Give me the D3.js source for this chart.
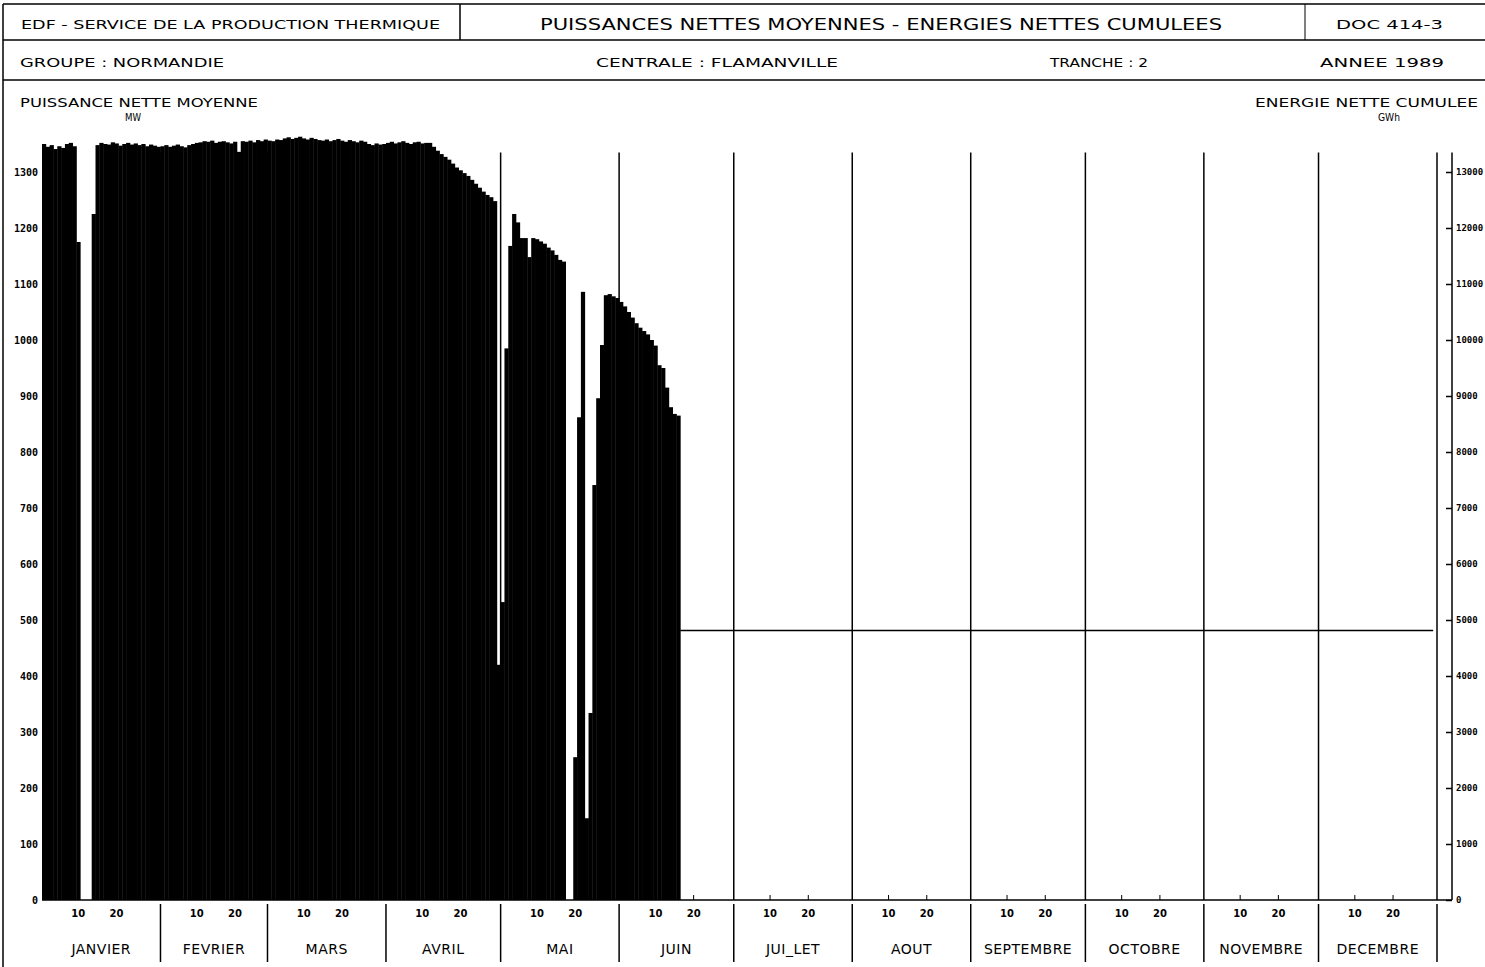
<!DOCTYPE html>
<html>
<head>
<meta charset="utf-8">
<script src="https://cdn.jsdelivr.net/npm/d3@7"></script>
<style>
body { margin: 0; background: #fff; }
svg { display: block; }
text { font-family: "DejaVu Sans", sans-serif; fill: #000; }
.tick text { font-family: "DejaVu Sans Mono", monospace; font-weight: bold; font-size: 10px; }
</style>
</head>
<body>
<div id="fig"></div>
<script>
const fig_width = 1485
const fig_height = 967

// Daily net mean power (MW), 1989. 0 = unit off line.
const power_jan = [1350, 1345, 1348, 1341, 1346, 1343, 1350, 1352, 1346, 1175,
    0, 0, 0, 1225, 1348, 1352, 1350, 1349, 1353, 1351,
    1347, 1350, 1352, 1349, 1351, 1348, 1350, 1346, 1349, 1347, 1345]
const power_feb = [1346, 1348, 1345, 1347, 1349, 1346, 1344, 1348, 1350, 1352,
    1353, 1355, 1354, 1356, 1352, 1354, 1355, 1353, 1351, 1354,
    1336, 1355, 1354, 1356, 1353, 1357, 1355, 1358]
const power_mar = [1356, 1355, 1358, 1357, 1360, 1362, 1359, 1361, 1363, 1360,
    1358, 1361, 1359, 1357, 1356, 1358, 1355, 1357, 1359, 1356,
    1354, 1357, 1355, 1353, 1356, 1354, 1350, 1348, 1351, 1349, 1350]
const power_apr = [1352, 1354, 1351, 1353, 1355, 1352, 1350, 1353, 1354, 1351,
    1352, 1352, 1345, 1338, 1332, 1327, 1322, 1315, 1308, 1303,
    1298, 1293, 1286, 1279, 1272, 1265, 1259, 1255, 1248, 420]
const power_may = [532, 985, 1168, 1225, 1210, 1182, 1182, 1148, 1182, 1180,
    1176, 1172, 1165, 1160, 1152, 1143, 1140, 0, 0, 255,
    862, 1086, 146, 334, 741, 896, 991, 1080, 1082, 1078, 1075]
const power_jun = [1068, 1060, 1050, 1040, 1030, 1022, 1016, 1010, 1000, 990,
    955, 950, 915, 880, 868, 865]

const months = ['JANVIER', 'FEVRIER', 'MARS', 'AVRIL', 'MAI', 'JUIN',
    'JUI_LET', 'AOUT', 'SEPTEMBRE', 'OCTOBRE', 'NOVEMBRE', 'DECEMBRE']
const month_days = [31, 28, 31, 30, 31, 30, 31, 31, 30, 31, 30, 31]
const power_ticks = d3.range(0, 1301, 100)
const energy_ticks = d3.range(0, 13001, 1000)
const day_ticks = [10, 20]

const power = [].concat(power_jan, power_feb, power_mar, power_apr, power_may, power_jun)
// cumulated net energy in GWh (MW x 24 h)
const energy = Array.from(d3.cumsum(d3.range(365).map(d => (power[d] || 0) * 24 / 1000)))

const month_start = Array.from(d3.cumsum([0].concat(month_days.slice(0, -1))))
const month_end = Array.from(d3.cumsum(month_days))

// scales
let x = d3.scaleLinear().domain([0, 365]).range([42, 1437])
let y = d3.scaleLinear().domain([0, 1300]).range([900, 172])
let y2 = d3.scaleLinear().domain([0, 13000]).range([900, 172])
const right_axis_x = 1452
const plot_top = y(1335)

let fig = d3.select('#fig')
    .append('svg')
    .attr('width', fig_width)
    .attr('height', fig_height)

// ---- header frame
const frame = fig.append('g').attr('stroke', '#000').attr('stroke-width', 1.5)
frame.append('line').attr('x1', 3).attr('x2', fig_width).attr('y1', 4).attr('y2', 4)
frame.append('line').attr('x1', 3).attr('x2', fig_width).attr('y1', 40).attr('y2', 40)
frame.append('line').attr('x1', 3).attr('x2', fig_width).attr('y1', 80).attr('y2', 80)
frame.append('line').attr('x1', 3).attr('x2', 3).attr('y1', 4).attr('y2', fig_height)
frame.append('line').attr('x1', 460).attr('x2', 460).attr('y1', 4).attr('y2', 40)
frame.append('line').attr('x1', 1305).attr('x2', 1305).attr('y1', 4).attr('y2', 40).attr('stroke-width', 1)

const header = [
    {t: 'EDF - SERVICE DE LA PRODUCTION THERMIQUE', x: 21, y: 29, w: 419, s: 13},
    {t: 'PUISSANCES NETTES MOYENNES - ENERGIES NETTES CUMULEES', x: 540, y: 30, w: 682, s: 16},
    {t: 'DOC 414-3', x: 1336, y: 29, w: 107, s: 12},
    {t: 'GROUPE :  NORMANDIE', x: 20, y: 67, w: 204, s: 13},
    {t: 'CENTRALE : FLAMANVILLE', x: 596, y: 67, w: 242, s: 13},
    {t: 'TRANCHE :  2', x: 1050, y: 67, w: 98, s: 12},
    {t: 'ANNEE  1989', x: 1320, y: 67, w: 124, s: 13},
    {t: 'PUISSANCE NETTE MOYENNE', x: 20, y: 107, w: 238, s: 12},
    {t: 'MW', x: 125, y: 121, w: 16, s: 11},
    {t: 'ENERGIE NETTE CUMULEE', x: 1255, y: 107, w: 223, s: 12},
    {t: 'GWh', x: 1378, y: 121, w: 22, s: 11},
]
fig.append('g').selectAll('text')
    .data(header)
    .join('text')
    .attr('x', d => d.x)
    .attr('y', d => d.y)
    .attr('font-size', d => d.s)
    .attr('textLength', d => d.w)
    .attr('lengthAdjust', 'spacingAndGlyphs')
    .text(d => d.t)

// ---- month grid lines inside the plot
fig.append('g').selectAll('line')
    .data(month_end)
    .join('line')
    .attr('x1', d => x(d)).attr('x2', d => x(d))
    .attr('y1', plot_top).attr('y2', y(0))
    .attr('stroke', '#000').attr('stroke-width', 1.5)

// ---- daily bars
fig.append('g').selectAll('rect')
    .data(power.map((v, i) => ({day: i, v: v})).filter(d => d.v > 0))
    .join('rect')
    .attr('x', d => x(d.day))
    .attr('width', d => x(d.day + 1) - x(d.day) + 0.4)
    .attr('y', d => y(d.v))
    .attr('height', d => y(0) - y(d.v))
    .attr('fill', '#000')

// ---- cumulated energy line (hidden under the bars, visible after the last day)
const last_day = power.length
fig.append('path')
    .datum(d3.range(last_day, 365))
    .attr('fill', 'none')
    .attr('stroke', '#000')
    .attr('stroke-width', 1.5)
    .attr('d', d3.line().x(d => x(d)).y(d => y2(energy[d])))

// ---- axes
fig.append('g')
    .attr('transform', `translate(${x(0)},0)`)
    .call(d3.axisLeft(y).tickValues(power_ticks).tickSize(0).tickPadding(4).tickFormat(d3.format('d')))
    .call(g => g.select('.domain').remove())

fig.append('g')
    .attr('transform', `translate(${right_axis_x},0)`)
    .call(d3.axisRight(y2).tickValues(energy_ticks).tickSizeInner(-6).tickSizeOuter(0).tickPadding(4).tickFormat(d3.format('d')))
    .call(g => g.select('.domain').attr('d', `M0,${plot_top}V${y(0)}`).attr('stroke-width', 1.5))
    .call(g => g.selectAll('.tick line').attr('stroke-width', 1.5))
    .call(g => g.selectAll('.tick text').style('font-size', '9px'))

// x axis base line
fig.append('line')
    .attr('x1', x(0)).attr('x2', right_axis_x)
    .attr('y1', y(0)).attr('y2', y(0))
    .attr('stroke', '#000').attr('stroke-width', 1.5)

// day 10 / 20 ticks and labels
const day_marks = []
month_start.forEach(s => day_ticks.forEach(t => day_marks.push({d: s + t - 0.5, t: t})))
fig.append('g').selectAll('line')
    .data(day_marks)
    .join('line')
    .attr('x1', d => x(d.d)).attr('x2', d => x(d.d))
    .attr('y1', y(0) - 5).attr('y2', y(0))
    .attr('stroke', '#000').attr('stroke-width', 1)
fig.append('g').selectAll('text')
    .data(day_marks)
    .join('text')
    .attr('x', d => x(d.d))
    .attr('y', y(0) + 17)
    .attr('text-anchor', 'middle')
    .attr('font-family', 'DejaVu Sans Mono')
    .attr('font-weight', 'bold')
    .attr('font-size', 10)
    .text(d => d.t)

// month separators and names below the axis
fig.append('g').selectAll('line')
    .data(month_end)
    .join('line')
    .attr('x1', d => x(d)).attr('x2', d => x(d))
    .attr('y1', y(0) + 4).attr('y2', y(0) + 62)
    .attr('stroke', '#000').attr('stroke-width', 1.5)
fig.append('g').selectAll('text')
    .data(months)
    .join('text')
    .attr('x', (d, i) => x(month_start[i] + month_days[i] / 2))
    .attr('y', y(0) + 54)
    .attr('text-anchor', 'middle')
    .attr('font-size', 14)
    .attr('letter-spacing', 0.5)
    .text(d => d)
</script>
</body>
</html>
